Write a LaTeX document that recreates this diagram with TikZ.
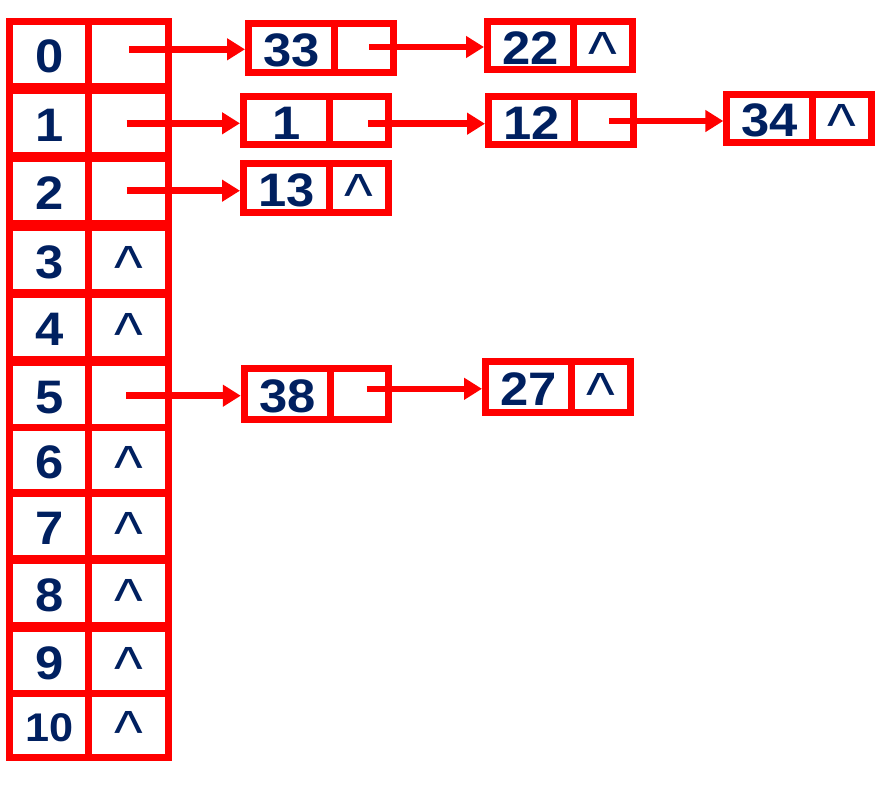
\documentclass[tikz,border=0pt]{standalone}
\usepackage{fontspec}
\setmainfont{Liberation Sans}
\usetikzlibrary{arrows.meta}
\definecolor{navy}{RGB}{0,32,96}
\definecolor{redline}{RGB}{255,0,0}
\newcommand\caretsym{\raisebox{-10pt}{\scalebox{1.3}{\mdseries\textasciicircum}}}
\newcommand\wide[1]{\scalebox{1.08}[1]{#1}}
\newcommand\trow[3]{%
  \node[cell,minimum width=79.3pt,minimum height=65pt] (k#1) at (6,#2) {\wide{#1}};
  \node[cell,minimum width=79.7pt,minimum height=65pt] (p#1) at ([xshift=-7pt]k#1.north east) {#3};}
\newcommand\lnode[6]{%
  \node[cell,minimum width=86pt,minimum height=#4pt] (#1v) at (#2,#3) {\wide{#5}};
  \node[cell,minimum width=58.5pt,minimum height=#4pt] (#1p) at ([xshift=-7pt]#1v.north east) {#6};}
\begin{document}
\begin{tikzpicture}[x=1pt,y=-1pt,
  cell/.style={draw=redline,line width=7pt,inner sep=0pt,anchor=north west,text=navy,
    font=\bfseries\fontsize{47}{47}\selectfont,text height=36.7pt,text depth=0pt},
  link/.style={draw=redline,line width=6.5pt,-{Triangle[length=18pt,width=21pt]}}]
\fill[white] (0,0) rectangle (890,785);
\useasboundingbox (0,0) rectangle (890,785);
% hash table
\trow{0}{18}{}
\trow{1}{87}{}
\trow{2}{155}{}
\trow{3}{223.7}{\caretsym}
\trow{4}{291.3}{\caretsym}
\trow{5}{359}{}
\trow{6}{424}{\caretsym}
\trow{7}{489.7}{\caretsym}
\trow{8}{557}{\caretsym}
\trow{9}{624.7}{\caretsym}
\node[cell,minimum width=79.3pt,minimum height=64.3pt,font=\bfseries\fontsize{40}{40}\selectfont,text height=32pt] (k10) at (6,689.7) {\wide{10}};
\node[cell,minimum width=79.7pt,minimum height=64.3pt] (p10) at ([xshift=-7pt]k10.north east) {\caretsym};
% list nodes
\lnode{a}{245}{20}{48.7}{33}{}
\lnode{b}{484}{18.3}{48}{22}{\caretsym}
\lnode{c}{240}{93.3}{48}{1}{}
\lnode{d}{485}{93.3}{48}{12}{}
\lnode{e}{723.3}{91}{48}{34}{\caretsym}
\lnode{f}{240}{160}{48.7}{13}{\caretsym}
\lnode{g}{240.8}{365}{51}{38}{}
\lnode{h}{482}{358}{51.2}{27}{\caretsym}
% arrow starts
\coordinate (s0) at (129.3,49.3);
\coordinate (s1) at (126.7,123.3);
\coordinate (s2) at (126.7,190.7);
\coordinate (s5) at (126.3,395.7);
\coordinate (sa) at (369.3,47);
\coordinate (sc) at (368.3,123.7);
\coordinate (sd) at (609.3,121);
\coordinate (sg) at (366.8,388.8);
\draw[link] (s0) -- (s0 -| av.west);
\draw[link] (s1) -- (s1 -| cv.west);
\draw[link] (s2) -- (s2 -| fv.west);
\draw[link] (s5) -- (s5 -| gv.west);
\draw[link] (sa) -- (sa -| bv.west);
\draw[link] (sc) -- (sc -| dv.west);
\draw[link] (sd) -- (sd -| ev.west);
\draw[link] (sg) -- (sg -| hv.west);
\end{tikzpicture}
\end{document}
